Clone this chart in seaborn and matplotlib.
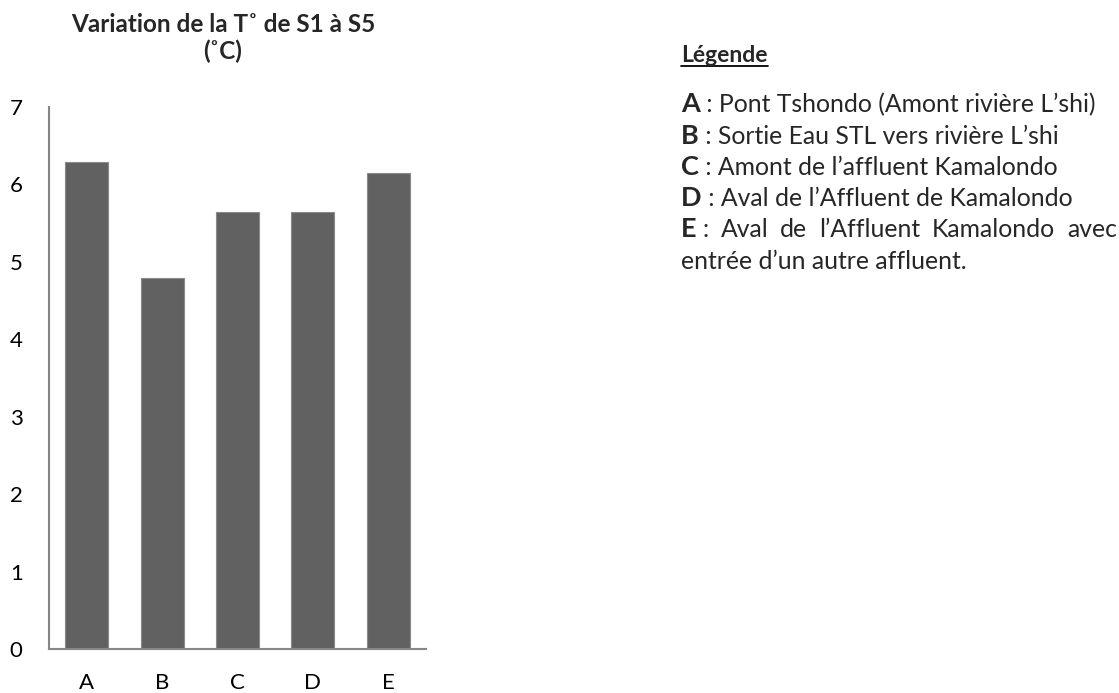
import matplotlib
matplotlib.use("Agg")
import matplotlib.pyplot as plt
from matplotlib.lines import Line2D
import seaborn as sns
import pandas as pd

# Temperature variation at sampling sites S1..S5 (labelled A..E)
sites = ["A", "B", "C", "D", "E"]
temperature = [6.29, 4.79, 5.65, 5.65, 6.15]
y_ticks = [0, 1, 2, 3, 4, 5, 6, 7]

legend_keys = ["A", "B", "C", "D", "E"]
legend_texts = [
    " : Pont Tshondo (Amont rivière L\u2019shi)",
    " : Sortie Eau STL vers rivière L\u2019shi",
    " : Amont de l\u2019affluent Kamalondo",
    " : Aval de l\u2019Affluent de Kamalondo",
    None,
]
# last entry is justified across the column, so it is kept as separate words
last_words = [":", "Aval", "de", "l\u2019Affluent", "Kamalondo", "avec"]
legend_extra = "entrée d\u2019un autre affluent."

sns.set_theme(style="white")
plt.rcParams["font.family"] = ["Lato", "DejaVu Sans"]

W, H = 1119, 693
fig = plt.figure(figsize=(W / 100, H / 100), dpi=100)
ax = fig.add_axes([49 / W, (H - 649) / H, (426 - 49) / W, (649 - 107) / H])

df = pd.DataFrame({"site": sites, "temp": temperature})
sns.barplot(data=df, x="site", y="temp", color="#616161", width=0.57,
            edgecolor="#8a8a8a", linewidth=0.8, saturation=1, ax=ax)

ax.set_xlim(-0.5, 4.5)
ax.set_ylim(0, 7)
ax.set_yticks(y_ticks)
ax.set_yticklabels([str(t) for t in y_ticks])
ax.set_xlabel("")
ax.set_ylabel("")
ax.tick_params(axis="both", length=0, labelsize=16, colors="black")
ax.tick_params(axis="y", pad=19)
ax.tick_params(axis="x", pad=17)
for s in ["top", "right"]:
    ax.spines[s].set_visible(False)
for s in ["left", "bottom"]:
    ax.spines[s].set_color("#868686")
    ax.spines[s].set_linewidth(1.5)

# Chart title
fig.text(223 / W, 1 - 25 / H, "Variation de la T\u02da de S1 à S5", ha="center",
         va="center", fontsize=17.5, fontweight="bold")
fig.text(223 / W, 1 - 51 / H, "(\u02daC)", ha="center", va="center",
         fontsize=17.5, fontweight="bold")

# Side legend explaining the site codes
fig.canvas.draw()
renderer = fig.canvas.get_renderer()
x0 = 681 / W
x_right = 1117
body = 17.8
keysize = 19.5

head = fig.text(x0, 1 - 62 / H, "Légende", ha="left", va="baseline",
                fontsize=16.5, fontweight="bold")
bb = head.get_window_extent(renderer)
fig.add_artist(Line2D([bb.x0 / W, bb.x1 / W], [(H - 66) / H] * 2,
                      color="black", linewidth=1.3, transform=fig.transFigure))

rows_y = [112, 144, 175, 206, 237]
for key, txt, yy in zip(legend_keys, legend_texts, rows_y):
    k = fig.text(x0, 1 - yy / H, key, ha="left", va="baseline",
                 fontsize=keysize, fontweight="bold")
    kb = k.get_window_extent(renderer)
    if txt is not None:
        fig.text(kb.x1 / W, 1 - yy / H, txt, ha="left", va="baseline",
                 fontsize=body)
    else:
        words = [fig.text(0, 1 - yy / H, w, ha="left", va="baseline",
                          fontsize=body) for w in last_words]
        widths = [w.get_window_extent(renderer).width for w in words]
        start = kb.x1 + 6
        gap = (x_right - start - sum(widths)) / (len(words) - 1)
        xpos = start
        for w, wd in zip(words, widths):
            w.set_x(xpos / W)
            xpos += wd + gap
fig.text(x0, 1 - 269 / H, legend_extra, ha="left", va="baseline", fontsize=body)

fig.savefig("out.png", dpi=100, facecolor="white")
